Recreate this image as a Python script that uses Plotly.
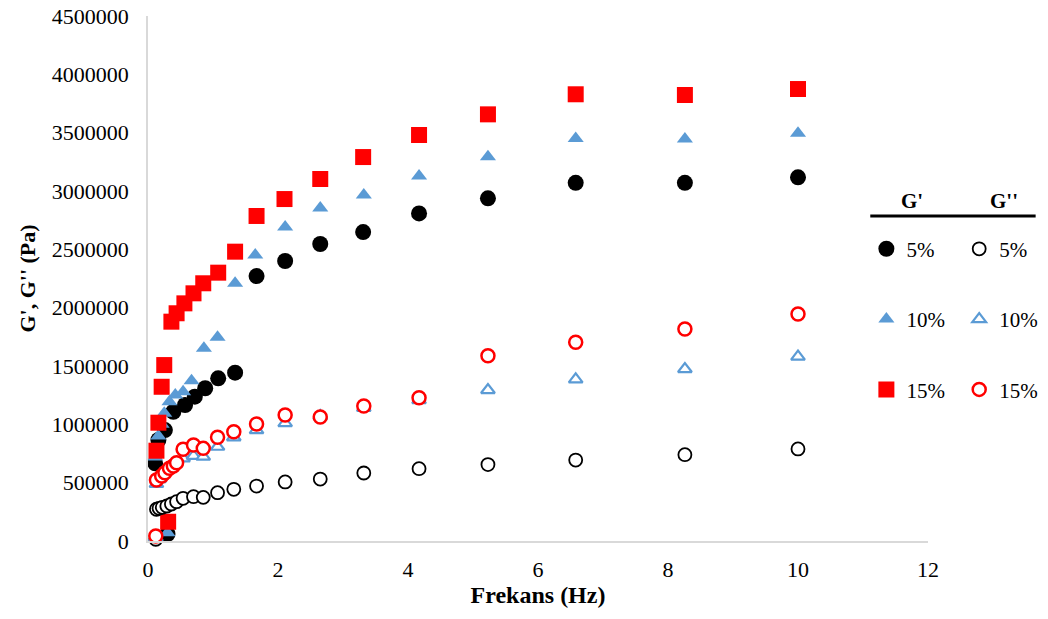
import plotly.graph_objects as go

# ---- data ----
gp5_x = [0.30, 0.11, 0.16, 0.26, 0.39, 0.57, 0.72, 0.88, 1.08, 1.34, 1.67, 2.11, 2.65, 3.31, 4.17, 5.23, 6.58, 8.26, 10.0]
gp5_y = [60000, 666000, 866000, 951000, 1108000, 1166000, 1237000, 1309000, 1394000, 1443000,
         2271000, 2400000, 2546000, 2648000, 2808000, 2937000, 3070000, 3070000, 3117000]

gp10_x = [0.30, 0.11, 0.16, 0.21, 0.25, 0.33, 0.42, 0.54, 0.67, 0.86, 1.07, 1.34, 1.65, 2.11, 2.65, 3.32, 4.17, 5.23, 6.58, 8.26, 10.0]
gp10_y = [70000, 720000, 900000, 1000000, 1094000, 1194000, 1251000, 1280000, 1374000, 1652000, 1746000,
          2209000, 2451000, 2691000, 2854000, 2966000, 3128000, 3294000, 3451000, 3445000, 3494000]

gp15_x = [0.13, 0.16, 0.21, 0.25, 0.31, 0.36, 0.44, 0.56, 0.70, 0.85, 1.08, 1.34, 1.67, 2.10, 2.65, 3.31, 4.17, 5.23, 6.58, 8.26, 10.0]
gp15_y = [774000, 1014000, 1322000, 1508000, 165000, 1880000, 1952000, 2037000, 2123000, 2209000, 2300000,
          2480000, 2786000, 2931000, 3103000, 3291000, 3480000, 3657000, 3829000, 3823000, 3874000]

gpp5_x = [0.12, 0.13, 0.17, 0.22, 0.29, 0.36, 0.44, 0.54, 0.70, 0.85, 1.07, 1.32, 1.67, 2.11, 2.65, 3.32, 4.17, 5.23, 6.58, 8.26, 10.0]
gpp5_y = [15000, 272000, 280000, 289000, 300000, 317000, 337000, 366000, 380000, 374000, 414000, 443000,
          471000, 506000, 531000, 583000, 620000, 655000, 694000, 740000, 789000]

gpp10_x = [0.12, 0.13, 0.17, 0.21, 0.26, 0.33, 0.42, 0.54, 0.70, 0.85, 1.07, 1.32, 1.67, 2.11, 2.65, 3.32, 4.17, 5.23, 6.58, 8.26, 10.0]
gpp10_y = [30000, 490000, 530000, 560000, 600000, 630000, 660000, 709000, 729000, 723000, 808000, 889000,
           951000, 1011000, 1071000, 1140000, 1208000, 1294000, 1386000, 1474000, 1580000]

gpp15_x = [0.12, 0.13, 0.21, 0.26, 0.33, 0.39, 0.44, 0.54, 0.70, 0.85, 1.07, 1.32, 1.67, 2.11, 2.65, 3.32, 4.17, 5.23, 6.58, 8.26, 10.0]
gpp15_y = [43000, 523000, 557000, 585000, 623000, 643000, 671000, 786000, 823000, 794000, 889000, 937000,
           1003000, 1080000, 1063000, 1157000, 1228000, 1588000, 1703000, 1817000, 1946000]

labels = ["5%", "10%", "15%"]
x_ticks = [0, 2, 4, 6, 8, 10, 12]
y_ticks = [0, 500000, 1000000, 1500000, 2000000, 2500000, 3000000, 3500000, 4000000, 4500000]

BLACK = "#000000"
BLUE = "#5B9BD5"
RED = "#FF0000"
FONT = "Liberation Serif"

fig = go.Figure()

def add(x, y, name, symbol, size, color, line_color, line_w, legend, group):
    fig.add_trace(go.Scatter(
        x=x, y=y, mode="markers", name=name, legend=legend, legendgroup=group,
        marker=dict(symbol=symbol, size=size, color=color,
                    line=dict(color=line_color, width=line_w)),
        cliponaxis=False,
    ))

add(gp5_x, gp5_y, labels[0], "circle", 16, BLACK, BLACK, 0, "legend", "a1")
add(gp10_x, gp10_y, labels[1], "triangle-up", 14, BLUE, BLUE, 0, "legend", "a2")
add(gp15_x, gp15_y, labels[2], "square", 16, RED, RED, 0, "legend", "a3")
add(gpp5_x, gpp5_y, labels[0], "circle", 13, "white", BLACK, 1.8, "legend2", "b1")
add(gpp10_x, gpp10_y, labels[1], "triangle-up", 12, "white", BLUE, 2.2, "legend2", "b2")
add(gpp15_x, gpp15_y, labels[2], "circle", 13, "white", RED, 2.5, "legend2", "b3")

axis_common = dict(showgrid=False, zeroline=False, showline=True, linecolor="#D9D9D9",
                   linewidth=1.5, ticks="", automargin=False, ticklabeloverflow="allow",
                   tickfont=dict(family=FONT, size=22, color="#000000"))

# page body has an 8px default margin: the figure is sized to fit the window
fig.update_layout(
    width=1040, height=611,
    margin=dict(l=140, r=120, t=8, b=78, autoexpand=False),
    paper_bgcolor="white", plot_bgcolor="white",
    font=dict(family=FONT, size=21, color="#000000"),
    xaxis=dict(range=[0, 12], tickvals=x_ticks, ticktext=[str(v) for v in x_ticks],
               ticklabelstandoff=8,
               title=dict(text="<b>Frekans (Hz)</b>", font=dict(family=FONT, size=24), standoff=3),
               **axis_common),
    yaxis=dict(range=[0, 4500000], tickvals=y_ticks, ticktext=[str(v) for v in y_ticks],
               ticklabelstandoff=13,
               title=dict(text="<b>G', G'' (Pa)</b>", font=dict(family=FONT, size=22), standoff=10),
               **axis_common),
    legend=dict(x=0.921, y=0.595, xanchor="left", yanchor="top", bgcolor="rgba(0,0,0,0)",
                font=dict(family=FONT, size=21), tracegroupgap=40, itemwidth=30),
    legend2=dict(x=1.04, y=0.595, xanchor="left", yanchor="top", bgcolor="rgba(0,0,0,0)",
                 font=dict(family=FONT, size=21), tracegroupgap=40, itemwidth=30),
    showlegend=True,
)

fig.add_annotation(text="<b>G'</b>", x=0.979, y=0.648, xref="paper", yref="paper",
                   showarrow=False, font=dict(family=FONT, size=21), xanchor="center", yanchor="middle")
fig.add_annotation(text="<b>G''</b>", x=1.097, y=0.648, xref="paper", yref="paper",
                   showarrow=False, font=dict(family=FONT, size=21), xanchor="center", yanchor="middle")
fig.add_shape(type="line", xref="paper", yref="paper", x0=0.926, x1=1.138, y0=0.619, y1=0.619,
              line=dict(color="black", width=3))

fig.write_html("out.html")
